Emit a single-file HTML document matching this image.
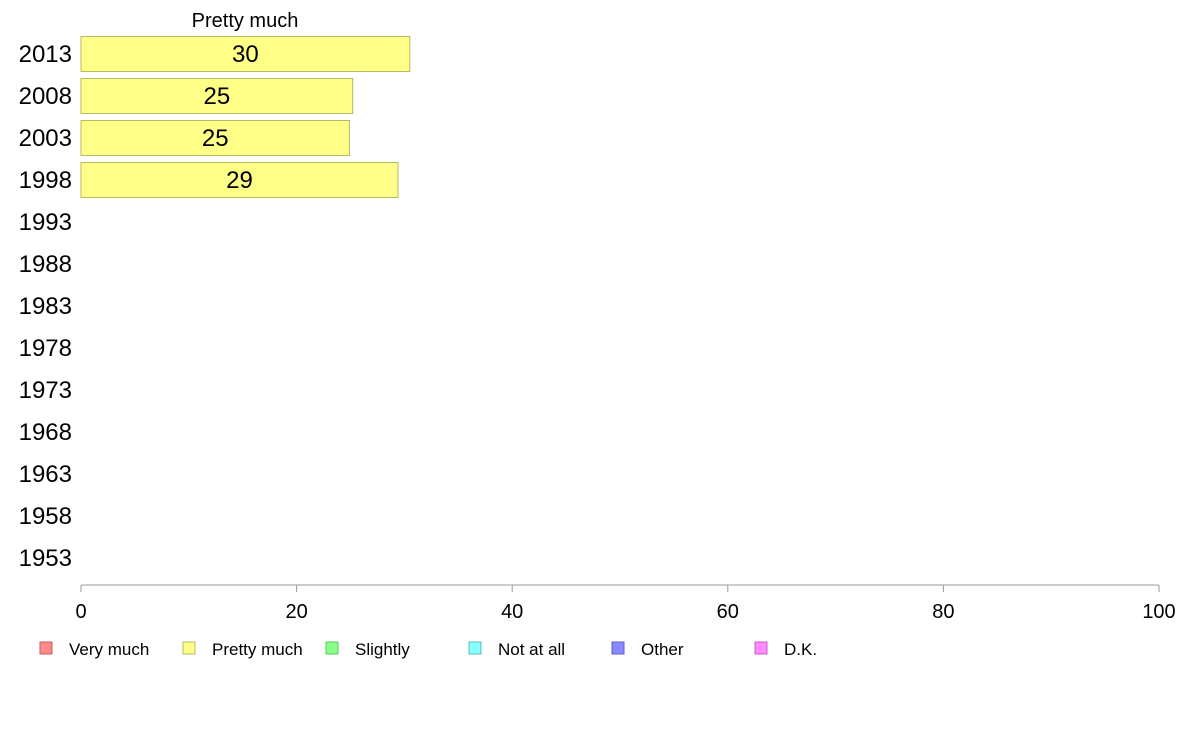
<!DOCTYPE html>
<html><head><meta charset="utf-8"><style>
body{margin:0;background:#fff;}
svg{font-family:"Liberation Sans",Arial,sans-serif;display:block;}
</style></head><body>
<svg id="chart" width="1188" height="736" xmlns="http://www.w3.org/2000/svg">
<text x="245" y="27" font-size="20" text-anchor="middle" fill="#000">Pretty much</text>
<g id="bars"></g>
<g id="yaxis"></g>
<g id="xaxis"></g>
<g id="legend"></g>
</svg>
<script>
const years = [2013, 2008, 2003, 1998, 1993, 1988, 1983, 1978, 1973, 1968, 1963, 1958, 1953];
const prettyMuch = [30.5, 25.2, 24.9, 29.4, null, null, null, null, null, null, null, null, null];
const valueLabels = ["30", "25", "25", "29", "", "", "", "", "", "", "", "", ""];
const xTicks = [0, 20, 40, 60, 80, 100];
const legendLabels = ["Very much", "Pretty much", "Slightly", "Not at all", "Other", "D.K."];

const NS = "http://www.w3.org/2000/svg";
const x0 = 81, x1 = 1159, yTop = 54, rowStep = 42, barH = 35;
const xs = v => x0 + (v / 100) * (x1 - x0);
const ys = i => yTop + i * rowStep;
function mk(tag, attrs, parent, text) {
  const e = document.createElementNS(NS, tag);
  for (const k in attrs) e.setAttribute(k, attrs[k]);
  if (text !== undefined) e.textContent = text;
  parent.appendChild(e);
  return e;
}
const bars = document.getElementById('bars');
const yaxis = document.getElementById('yaxis');
years.forEach((yr, i) => {
  const t = mk('text', {x: 72, y: ys(i) + 8, 'font-size': 24, 'text-anchor': 'end', fill: '#000'}, yaxis, String(yr));
  
  
  const v = prettyMuch[i];
  if (v != null) {
    const r = mk('rect', {x: xs(0), y: ys(i) - barH / 2, width: xs(v) - xs(0), height: barH, fill: '#ffff88', stroke: '#b8b860', 'stroke-width': 1}, bars);
    
    
    const l = mk('text', {x: (xs(0) + xs(v)) / 2, y: ys(i) + 8, 'font-size': 24, 'text-anchor': 'middle', fill: '#000'}, bars, valueLabels[i]);
    
    
  }
});
const xaxis = document.getElementById('xaxis');
const axl = mk('line', {x1: x0, x2: x1, y1: 585, y2: 585, stroke: '#999', 'stroke-width': 1}, xaxis);


xTicks.forEach(t => {
  const tk = mk('line', {x1: xs(t), x2: xs(t), y1: 585, y2: 592, stroke: '#999', 'stroke-width': 1}, xaxis);
  
  
  const tl = mk('text', {x: xs(t), y: 618, 'font-size': 20, 'text-anchor': 'middle', fill: '#000'}, xaxis, String(t));
  
  
});
const fills = ['#ff8888', '#ffff88', '#88ff88', '#88ffff', '#8888ff', '#ff88ff'];
const strokes = ['#c06060', '#b8b860', '#60c060', '#60b8b8', '#6060c0', '#c060c0'];
const legend = document.getElementById('legend');
legendLabels.forEach((lab, i) => {
  const bx = 40 + i * 143;
  const g = mk('g', {}, legend);
  
  
  mk('rect', {x: bx, y: 642, width: 12, height: 12, fill: fills[i], stroke: strokes[i], 'stroke-width': 1}, g);
  mk('text', {x: bx + 29, y: 655, 'font-size': 17, fill: '#000'}, g, lab);
});
</script>
</body></html>
